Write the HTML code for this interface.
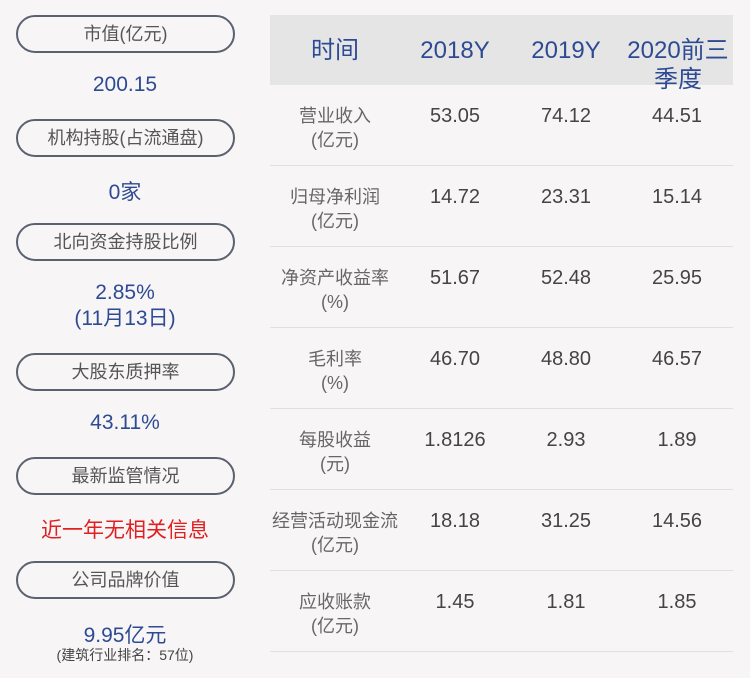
<!DOCTYPE html>
<html><head><meta charset="utf-8"><style>
body{margin:0;width:750px;height:678px;background:#f8f5f6;font-family:"Liberation Sans","Noto Sans CJK SC",sans-serif;position:relative;overflow:hidden}
.pill{position:absolute;left:16px;width:215px;height:34px;border:2px solid #5a6270;border-radius:19px;text-align:center;line-height:34px;font-size:18px;color:#555}
.v{position:absolute;left:15px;width:220px;text-align:center;font-size:21px;color:#2d4a93}
.hd{position:absolute;left:270px;top:15px;width:463px;height:70px;background:#e5e5e5}
.h{position:absolute;font-size:24px;color:#2d4a93;text-align:center;line-height:29px}
.lab{position:absolute;left:270px;width:130px;text-align:center;font-size:18px;color:#666;line-height:24px}
.num{position:absolute;width:110px;text-align:center;font-size:20px;color:#444}
.ln{position:absolute;left:270px;width:463px;height:1px;background:#e2dfe1}
</style></head><body>
<div class="pill" style="top:15px">市值(亿元)</div>
<div class="v" style="top:73px">200.15</div>
<div class="pill" style="top:119px">机构持股(占流通盘)</div>
<div class="v" style="top:176px">0家</div>
<div class="pill" style="top:223px">北向资金持股比例</div>
<div class="v" style="top:280px;line-height:26px">2.85%<br>(11月13日)</div>
<div class="pill" style="top:353px">大股东质押率</div>
<div class="v" style="top:411px">43.11%</div>
<div class="pill" style="top:457px">最新监管情况</div>
<div class="v" style="top:514px;color:#e02020">近一年无相关信息</div>
<div class="pill" style="top:561px">公司品牌价值</div>
<div class="v" style="top:619px">9.95亿元</div>
<div class="v" style="top:645px;font-size:14px;color:#444">(建筑行业排名：57位)</div>

<div class="hd"></div>
<div class="h" style="left:280px;width:110px;top:36px">时间</div>
<div class="h" style="left:400px;width:110px;top:36px">2018Y</div>
<div class="h" style="left:511px;width:110px;top:36px">2019Y</div>
<div class="h" style="left:622px;width:112px;top:36px">2020前三<br>季度</div>

<div class="lab" style="top:104px">营业收入<br>(亿元)</div>
<div class="num" style="left:400px;top:105px">53.05</div><div class="num" style="left:511px;top:105px">74.12</div><div class="num" style="left:622px;top:105px">44.51</div>
<div class="ln" style="top:165px"></div>
<div class="lab" style="top:185px">归母净利润<br>(亿元)</div>
<div class="num" style="left:400px;top:186px">14.72</div><div class="num" style="left:511px;top:186px">23.31</div><div class="num" style="left:622px;top:186px">15.14</div>
<div class="ln" style="top:246px"></div>
<div class="lab" style="top:266px">净资产收益率<br>(%)</div>
<div class="num" style="left:400px;top:267px">51.67</div><div class="num" style="left:511px;top:267px">52.48</div><div class="num" style="left:622px;top:267px">25.95</div>
<div class="ln" style="top:327px"></div>
<div class="lab" style="top:347px">毛利率<br>(%)</div>
<div class="num" style="left:400px;top:348px">46.70</div><div class="num" style="left:511px;top:348px">48.80</div><div class="num" style="left:622px;top:348px">46.57</div>
<div class="ln" style="top:408px"></div>
<div class="lab" style="top:428px">每股收益<br>(元)</div>
<div class="num" style="left:400px;top:429px">1.8126</div><div class="num" style="left:511px;top:429px">2.93</div><div class="num" style="left:622px;top:429px">1.89</div>
<div class="ln" style="top:489px"></div>
<div class="lab" style="top:509px">经营活动现金流<br>(亿元)</div>
<div class="num" style="left:400px;top:510px">18.18</div><div class="num" style="left:511px;top:510px">31.25</div><div class="num" style="left:622px;top:510px">14.56</div>
<div class="ln" style="top:570px"></div>
<div class="lab" style="top:590px">应收账款<br>(亿元)</div>
<div class="num" style="left:400px;top:591px">1.45</div><div class="num" style="left:511px;top:591px">1.81</div><div class="num" style="left:622px;top:591px">1.85</div>
<div class="ln" style="top:651px"></div>
</body></html>
